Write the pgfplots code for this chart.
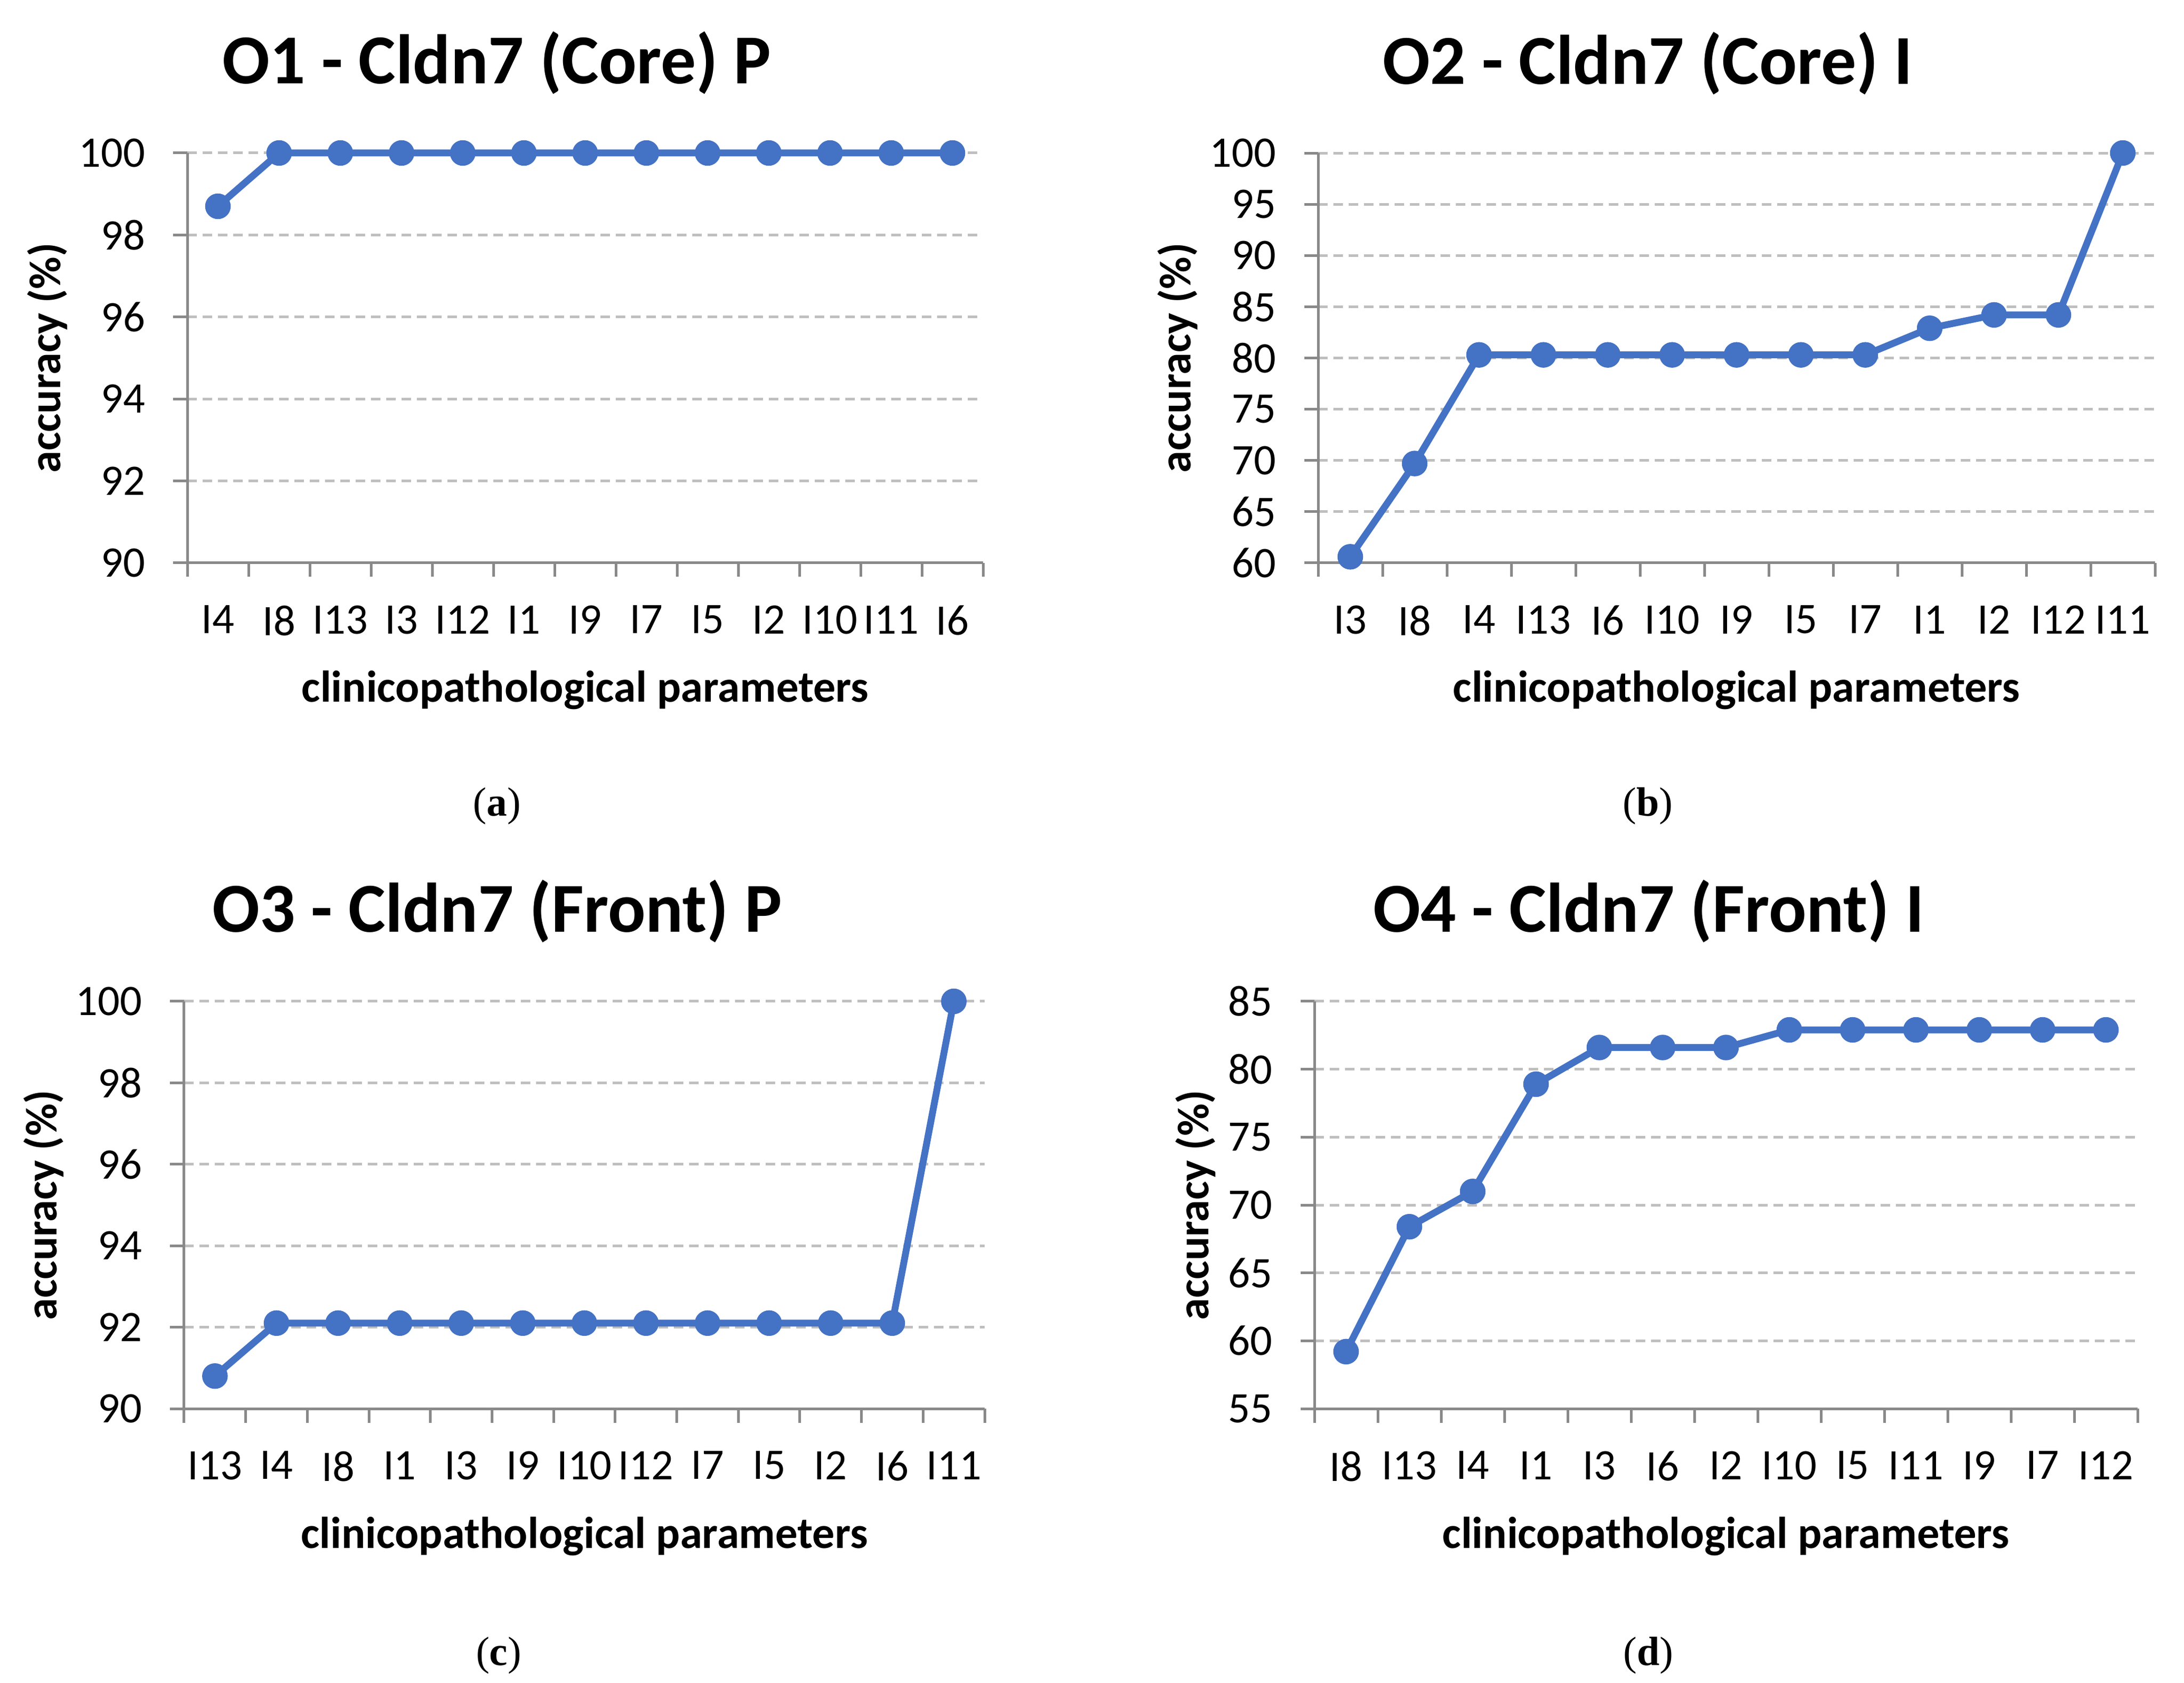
\documentclass[border=0pt]{standalone}
\usepackage{pgfplots}
\pgfplotsset{compat=1.18}
\usepackage{fontspec}
\setmainfont{Carlito}
\newfontfamily\capfont{Liberation Serif}

\definecolor{series}{HTML}{4472C4}
\definecolor{axisgray}{HTML}{898989}
\definecolor{gridgray}{HTML}{BFBFBF}

\pgfplotsset{
  panel/.style={
    scale only axis,
    anchor=south west,
    clip=false,
    xmin=0.5, xmax=13.5,
    xtick={0.5,1.5,...,13.5},
    x tick label as interval,
    axis x line*=bottom,
    axis y line*=left,
    axis line style={axisgray, line width=1pt},
    tick align=outside,
    major tick length=5.3pt,
    tick style={axisgray, line width=1pt},
    ymajorgrids,
    major grid style={gridgray, line width=1pt, dash pattern=on 3.6pt off 2.2pt},
    /pgf/number format/assume math mode=true,
    tick label style={font=\fontsize{16.5}{16.5}\selectfont, text=black},
    xticklabel style={anchor=north, inner sep=0pt, yshift=-10.7pt},
    yticklabel style={anchor=east, inner sep=0pt, xshift=-10.5pt},
    title style={font=\fontsize{26.6}{26.6}\selectfont\bfseries, anchor=base, yshift=20.2pt},
    xlabel style={font=\fontsize{16.9}{16.9}\selectfont\bfseries, at={(axis description cs:0.5,0)}, anchor=base, yshift=-52.8pt},
    ylabel style={font=\fontsize{16.9}{16.9}\selectfont\bfseries, anchor=center},
    xlabel={clinicopathological parameters},
    ylabel={accuracy (\%)},
  },
  acc/.style={color=series, line width=2.6pt, mark=*, mark size=4.6pt,
    mark options={solid, fill=series, draw=series, line width=0.5pt}},
}

\begin{document}
\begin{tikzpicture}
\path (0,0) rectangle (827.8pt,637.8pt);

% (a) O1 - Cldn7 (Core) P
\begin{axis}[panel, at={(71pt,424.4pt)}, width=301.6pt, height=155.4pt,
  ymin=90, ymax=100, ytick={90,92,94,96,98,100},
  xticklabels={I4,I8,I13,I3,I12,I1,I9,I7,I5,I2,I10,I11,I6},
  title={O1 - Cldn7 (Core) P},
  title style={at={(axis description cs:0.389,1)}},
  ylabel style={at={(axis description cs:-0.1757,0.5)}}]
\addplot[acc] coordinates {
  (1,98.7) (2,100) (3,100) (4,100) (5,100) (6,100) (7,100)
  (8,100) (9,100) (10,100) (11,100) (12,100) (13,100)
};
\end{axis}

% (b) O2 - Cldn7 (Core) I
\begin{axis}[panel, at={(499.6pt,424.4pt)}, width=317.2pt, height=155.4pt,
  ymin=60, ymax=100, ytick={60,65,70,75,80,85,90,95,100},
  xticklabels={I3,I8,I4,I13,I6,I10,I9,I5,I7,I1,I2,I12,I11},
  title={O2 - Cldn7 (Core) I},
  title style={at={(axis description cs:0.394,1)}},
  ylabel style={at={(axis description cs:-0.1677,0.5)}}]
\addplot[acc] coordinates {
  (1,60.6) (2,69.7) (3,80.3) (4,80.3) (5,80.3) (6,80.3) (7,80.3)
  (8,80.3) (9,80.3) (10,82.9) (11,84.2) (12,84.2) (13,100)
};
\end{axis}

% (c) O3 - Cldn7 (Front) P
\begin{axis}[panel, at={(69.8pt,103.8pt)}, width=303.4pt, height=154.4pt,
  ymin=90, ymax=100, ytick={90,92,94,96,98,100},
  xticklabels={I13,I4,I8,I1,I3,I9,I10,I12,I7,I5,I2,I6,I11},
  title={O3 - Cldn7 (Front) P},
  title style={at={(axis description cs:0.391,1)}},
  ylabel style={at={(axis description cs:-0.1753,0.5)}}]
\addplot[acc] coordinates {
  (1,90.8) (2,92.1) (3,92.1) (4,92.1) (5,92.1) (6,92.1) (7,92.1)
  (8,92.1) (9,92.1) (10,92.1) (11,92.1) (12,92.1) (13,100)
};
\end{axis}

% (d) O4 - Cldn7 (Front) I
\begin{axis}[panel, at={(498.2pt,103.8pt)}, width=312pt, height=154.4pt,
  ymin=55, ymax=85, ytick={55,60,65,70,75,80,85},
  xticklabels={I8,I13,I4,I1,I3,I6,I2,I10,I5,I11,I9,I7,I12},
  title={O4 - Cldn7 (Front) I},
  title style={at={(axis description cs:0.406,1)}},
  ylabel style={at={(axis description cs:-0.1442,0.5)}}]
\addplot[acc] coordinates {
  (1,59.2) (2,68.4) (3,71.0) (4,78.9) (5,81.6) (6,81.6) (7,81.6)
  (8,82.9) (9,82.9) (10,82.9) (11,82.9) (12,82.9) (13,82.9)
};
\end{axis}

\node[font=\capfont\fontsize{15.5}{15.5}\selectfont] at (188.4pt,332.2pt) {(\textbf{a})};
\node[font=\capfont\fontsize{15.5}{15.5}\selectfont] at (624.6pt,332.2pt) {(\textbf{b})};
\node[font=\capfont\fontsize{15.5}{15.5}\selectfont] at (189pt,10.2pt) {(\textbf{c})};
\node[font=\capfont\fontsize{15.5}{15.5}\selectfont] at (624.8pt,10.2pt) {(\textbf{d})};
\end{tikzpicture}
\end{document}
